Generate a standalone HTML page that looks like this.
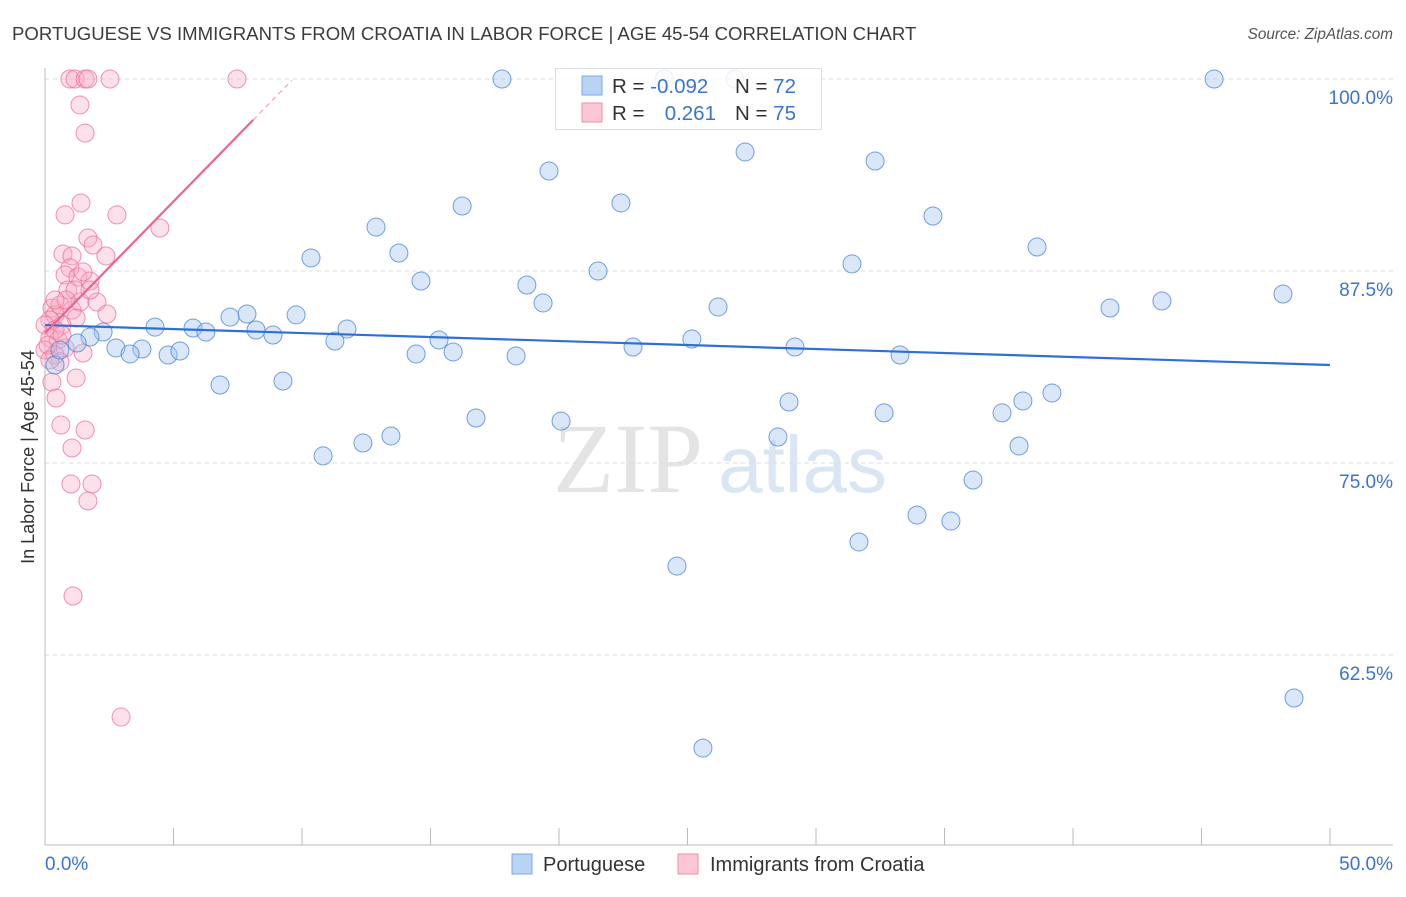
<!DOCTYPE html>
<html><head><meta charset="utf-8"><style>
body{margin:0;background:#fff;font-family:"Liberation Sans",sans-serif;}
svg text{font-family:"Liberation Sans",sans-serif;}
</style></head><body>
<svg width="1406" height="892">
<text x="12" y="40" font-size="18.6" fill="#3c3c3c">PORTUGUESE VS IMMIGRANTS FROM CROATIA IN LABOR FORCE | AGE 45-54 CORRELATION CHART</text>
<text x="1393" y="39" font-size="15.3" fill="#555" font-style="italic" text-anchor="end">Source: ZipAtlas.com</text>
<g>
<text x="553" y="492" font-size="100" fill="#e4e4e4" font-family="Liberation Serif" style="font-family:'Liberation Serif',serif">ZIP</text>
<text x="718" y="492" font-size="80" fill="#dbe6f5">atlas</text>
</g>
<g id="grid"></g>
<g id="axes"></g>
<g id="pts"></g>
<g id="trend"></g>
<text transform="translate(34,457) rotate(-90)" font-size="18" fill="#333" text-anchor="middle">In Labor Force | Age 45-54</text>
<g>
<rect x="555.5" y="68.5" width="266" height="61" fill="rgba(255,255,255,0.85)" stroke="#ddd"/>
<rect x="582" y="76" width="20" height="19" fill="#b9d3f5" stroke="#7aaaea"/>
<rect x="582" y="103" width="20" height="19" fill="#fcc6d5" stroke="#f08fae"/>
<text x="612" y="93" font-size="20.5" fill="#333">R = <tspan fill="#3b73d1">-0.092</tspan></text>
<text x="735" y="93" font-size="20.5" fill="#333">N = <tspan fill="#3b73d1">72</tspan></text>
<text x="612" y="120" font-size="20.5" fill="#333">R = </text>
<text x="716" y="120" font-size="20.5" fill="#3b73d1" text-anchor="end">0.261</text>
<text x="735" y="120" font-size="20.5" fill="#333">N = <tspan fill="#3b73d1">75</tspan></text>
</g>
<g>
<rect x="512" y="854" width="20" height="20" fill="#b9d3f5" stroke="#7aaaea"/>
<text x="543" y="871" font-size="20" fill="#333">Portuguese</text>
<rect x="678" y="854" width="20" height="20" fill="#fcc6d5" stroke="#f08fae"/>
<text x="710" y="871" font-size="20" fill="#333">Immigrants from Croatia</text>
</g>
</svg>
<script>
const blueX=[17.78,24.1,26.85,45.49,27.24,32.30,19.61,22.41,16.23,34.55,12.88,13.77,38.60,10.35,31.40,21.52,14.63,18.75,19.38,26.19,41.44,43.46,48.17,9.77,7.86,7.20,4.28,5.76,6.26,8.21,8.87,11.75,2.26,1.75,1.25,2.76,3.77,3.31,4.79,5.25,11.28,15.33,14.44,15.88,18.33,22.88,25.17,29.18,33.27,6.81,9.26,39.18,38.05,37.24,28.95,32.65,16.77,20.08,13.46,12.37,10.82,28.52,37.90,36.11,33.93,35.25,31.67,24.59,48.60,25.60,0.39,0.58];
const blueY=[100,100,100,100,95.25,94.66,94.01,91.93,91.73,91.08,90.36,88.67,89.06,88.35,87.96,87.5,86.85,86.59,85.42,85.16,85.09,85.55,86.0,84.64,84.70,84.50,83.85,83.79,83.53,83.66,83.33,83.72,83.53,83.20,82.81,82.49,82.42,82.10,82.03,82.29,82.94,83.01,82.10,82.23,81.97,82.55,83.07,82.55,82.03,80.08,80.34,79.56,79.04,78.26,78.97,78.26,77.93,77.73,76.76,76.30,75.46,76.69,76.11,73.89,71.61,71.22,69.86,68.29,59.70,56.44,81.38,82.36];
const pinkX=[0.97,1.17,1.56,1.67,2.53,7.47,1.36,1.56,0.78,1.40,2.80,4.47,1.67,1.87,2.37,0.70,1.05,0.97,0.78,1.28,1.75,0.89,0.27,0.39,0.58,1.05,1.36,2.02,2.41,1.21,0.19,0.0,0.66,0.19,0.51,0.78,0.0,0.39,0.58,1.48,0.27,1.21,0.43,0.62,1.56,1.05,1.01,1.83,1.67,1.09,2.96,0.39,0.12,0.66,0.19,1.17,1.48,1.75,0.82,0.39];
const pinkY=[100,100,100,100,100,100,98.31,96.48,91.15,91.93,91.15,90.30,89.65,89.19,88.48,88.61,88.48,87.70,87.24,87.11,86.85,86.26,85.09,84.64,85.29,84.96,85.48,85.48,84.70,84.44,84.31,83.98,83.98,83.14,83.01,82.49,82.36,82.03,81.58,82.16,80.27,80.53,79.23,77.47,77.15,75.98,73.63,73.63,72.53,66.34,58.46,83.66,82.68,83.33,81.71,86.26,87.44,86.26,85.61,85.61];
const blueTrend=[83.98,81.38];
const pinkTrend=[83.46,1.713];
const yTicks=[100,87.5,75,62.5];
const yTickLabels=["100.0%","87.5%","75.0%","62.5%"];
const NS="http://www.w3.org/2000/svg";
const sx=v=>45+v*1285/50, sy=v=>79+(100-v)*192/12.5;
function mk(t,a,p){const e=document.createElementNS(NS,t);for(const k in a)e.setAttribute(k,a[k]);p.appendChild(e);return e;}
const grid=document.getElementById('grid'),axes=document.getElementById('axes'),pts=document.getElementById('pts'),tr=document.getElementById('trend');
yTicks.forEach((v,i)=>{
 const l=mk('line',{x1:45,x2:1393,y1:sy(v),y2:sy(v),stroke:'#ddd','stroke-dasharray':'4,4'},grid);
 
 
 const t=mk('text',{x:1393,y:sy(v)+25,'font-size':19,fill:'#3b73d1','text-anchor':'end'},grid);
 t.textContent=yTickLabels[i];
 
 
});
let a=mk('line',{x1:45,x2:45,y1:68,y2:845,stroke:'#bbb'},axes);


a=mk('line',{x1:45,x2:1393,y1:845,y2:845,stroke:'#bbb'},axes);


for(let i=0;i<=10;i++){const t=mk('line',{x1:sx(i*5),x2:sx(i*5),y1:828,y2:845,stroke:'#bbb'},axes);
 
 }
let xl=mk('text',{x:45,y:870,'font-size':19,fill:'#3b73d1'},axes);xl.textContent='0.0%';


xl=mk('text',{x:1393,y:870,'font-size':19,fill:'#3b73d1','text-anchor':'end'},axes);xl.textContent='50.0%';


pinkX.forEach((x,i)=>{const c=mk('circle',{cx:sx(x),cy:sy(pinkY[i]),r:9,fill:'rgba(248,170,195,0.35)',stroke:'rgba(236,110,150,0.75)','stroke-width':1},pts);
 
 });
blueX.forEach((x,i)=>{const c=mk('circle',{cx:sx(x),cy:sy(blueY[i]),r:9,fill:'rgba(160,195,240,0.4)',stroke:'rgba(70,130,215,0.75)','stroke-width':1},pts);
 
 });
let t=mk('line',{x1:sx(0),y1:sy(blueTrend[0]),x2:sx(50),y2:sy(blueTrend[1]),stroke:'#2f6fd6','stroke-width':2.2},tr);


const pe=8.1,pd=9.6;
t=mk('line',{x1:sx(0),y1:sy(pinkTrend[0]),x2:sx(pe),y2:sy(pinkTrend[0]+pinkTrend[1]*pe),stroke:'#e8668f','stroke-width':2.2},tr);


t=mk('line',{x1:sx(pe),y1:sy(pinkTrend[0]+pinkTrend[1]*pe),x2:sx(pd),y2:sy(pinkTrend[0]+pinkTrend[1]*pd),stroke:'#f0a0b8','stroke-width':1.2,'stroke-dasharray':'5,4'},tr);


</script>
</body></html>
